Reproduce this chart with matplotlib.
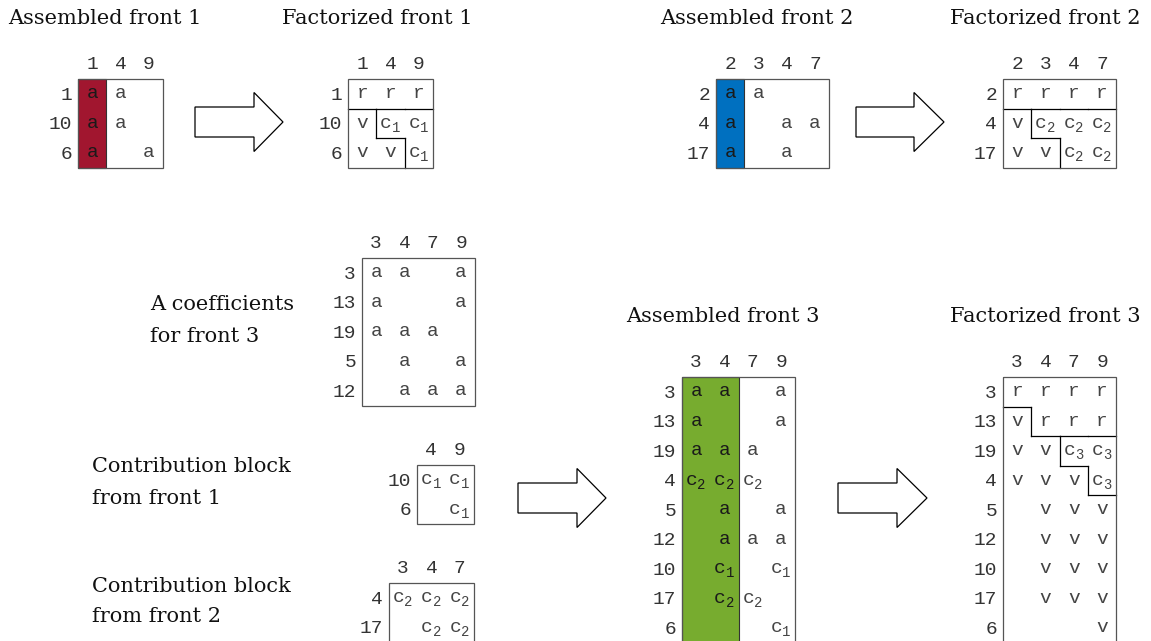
import matplotlib
matplotlib.use("Agg")
import matplotlib.pyplot as plt
from matplotlib.patches import Rectangle, Polygon

# ---- data: fronts of the multifrontal factorization ----
A1_cols = ['1', '4', '9']
A1_rows = ['1', '10', '6']
A1_cells = [['a', 'a', ''],
            ['a', 'a', ''],
            ['a', '', 'a']]
F1_cells = [['r', 'r', 'r'],
            ['v', 'c1', 'c1'],
            ['v', 'v', 'c1']]

A2_cols = ['2', '3', '4', '7']
A2_rows = ['2', '4', '17']
A2_cells = [['a', 'a', '', ''],
            ['a', '', 'a', 'a'],
            ['a', '', 'a', '']]
F2_cells = [['r', 'r', 'r', 'r'],
            ['v', 'c2', 'c2', 'c2'],
            ['v', 'v', 'c2', 'c2']]

AC_cols = ['3', '4', '7', '9']
AC_rows = ['3', '13', '19', '5', '12']
AC_cells = [['a', 'a', '', 'a'],
            ['a', '', '', 'a'],
            ['a', 'a', 'a', ''],
            ['', 'a', '', 'a'],
            ['', 'a', 'a', 'a']]

CB1_cols = ['4', '9']
CB1_rows = ['10', '6']
CB1_cells = [['c1', 'c1'],
             ['', 'c1']]

CB2_cols = ['3', '4', '7']
CB2_rows = ['4', '17']
CB2_cells = [['c2', 'c2', 'c2'],
             ['', 'c2', 'c2']]

A3_cols = ['3', '4', '7', '9']
A3_rows = ['3', '13', '19', '4', '5', '12', '10', '17', '6']
A3_cells = [['a', 'a', '', 'a'],
            ['a', '', '', 'a'],
            ['a', 'a', 'a', ''],
            ['c2', 'c2', 'c2', ''],
            ['', 'a', '', 'a'],
            ['', 'a', 'a', 'a'],
            ['', 'c1', '', 'c1'],
            ['', 'c2', 'c2', ''],
            ['', '', '', 'c1']]
F3_cells = [['r', 'r', 'r', 'r'],
            ['v', 'r', 'r', 'r'],
            ['v', 'v', 'c3', 'c3'],
            ['v', 'v', 'v', 'c3'],
            ['', 'v', 'v', 'v'],
            ['', 'v', 'v', 'v'],
            ['', 'v', 'v', 'v'],
            ['', 'v', 'v', 'v'],
            ['', '', '', 'v']]

RED = '#A1162F'
BLUE = '#0070C0'
GREEN = '#77AC2F'

CW = 28.3   # cell width (px)
CH = 29.5   # cell height (px)
MONO = 'Liberation Mono'
SERIF = 'DejaVu Serif'

fig = plt.figure(figsize=(11.51, 6.41), dpi=100)
ax = fig.add_axes([0, 0, 1, 1])
ax.set_xlim(0, 1151)
ax.set_ylim(641, 0)
ax.axis('off')


def cell_text(cx, cy, s, color):
    # letters with optional subscript digit
    if len(s) == 1:
        ax.text(cx, cy + 4.5, s, family=MONO, fontsize=14, color=color,
                ha='center', va='baseline')
    else:
        ax.text(cx - 4.5, cy + 4.5, s[0], family=MONO, fontsize=14, color=color,
                ha='center', va='baseline')
        ax.text(cx + 5.5, cy + 8.5, s[1], family=MONO, fontsize=10, color=color,
                ha='center', va='baseline')


def draw_matrix(left, top, cols, rows, cells, npiv=0, fill=None, factored=False):
    nr, nc = len(rows), len(cols)
    if npiv:
        ax.add_patch(Rectangle((left, top), npiv * CW, nr * CH,
                               facecolor=fill, edgecolor='#333333', lw=0.8, zorder=1))
    ax.add_patch(Rectangle((left, top), nc * CW, nr * CH,
                           facecolor='none', edgecolor='#555555', lw=0.9, zorder=3))
    for j, c in enumerate(cols):
        ax.text(left + (j + 0.5) * CW, top - 10, c, family=MONO, fontsize=14,
                color='#333333', ha='center', va='baseline')
    for i, r in enumerate(rows):
        cy = top + (i + 0.5) * CH
        ax.text(left - 6, cy + 6, r, family=MONO, fontsize=14,
                color='#333333', ha='right', va='baseline')
        for j in range(nc):
            s = cells[i][j]
            if s:
                col = '#1a1a1a' if j < npiv else '#444444'
                cell_text(left + (j + 0.5) * CW, cy, s, col)
    if factored:
        # boundaries between r / v / c regions
        for i in range(nr):
            for j in range(nc):
                s = cells[i][j]
                if not s:
                    continue
                if j + 1 < nc and cells[i][j + 1] and cells[i][j + 1][0] != s[0]:
                    x = left + (j + 1) * CW
                    ax.plot([x, x], [top + i * CH, top + (i + 1) * CH],
                            color='black', lw=0.9, zorder=2)
                if i + 1 < nr and cells[i + 1][j] and cells[i + 1][j][0] != s[0]:
                    y = top + (i + 1) * CH
                    ax.plot([left + j * CW, left + (j + 1) * CW], [y, y],
                            color='black', lw=0.9, zorder=2)


def draw_arrow(x0, x1, xh, cy):
    pts = [(x0, cy - 15), (xh, cy - 15), (xh, cy - 29.5), (x1, cy),
           (xh, cy + 29.5), (xh, cy + 15), (x0, cy + 15)]
    ax.add_patch(Polygon(pts, closed=True, facecolor='white',
                         edgecolor='black', lw=0.9))


# top row
draw_matrix(78, 79, A1_cols, A1_rows, A1_cells, npiv=1, fill=RED)
draw_matrix(348, 79, A1_cols, A1_rows, F1_cells, factored=True)
draw_matrix(716, 79, A2_cols, A2_rows, A2_cells, npiv=1, fill=BLUE)
draw_matrix(1003, 79, A2_cols, A2_rows, F2_cells, factored=True)
draw_arrow(195, 283, 254, 122)
draw_arrow(856, 944, 914, 122)

# front 3
draw_matrix(362, 258, AC_cols, AC_rows, AC_cells)
draw_matrix(417, 465, CB1_cols, CB1_rows, CB1_cells)
draw_matrix(389, 583, CB2_cols, CB2_rows, CB2_cells)
draw_matrix(682, 377, A3_cols, A3_rows, A3_cells, npiv=2, fill=GREEN)
draw_matrix(1003, 377, A3_cols, A3_rows, F3_cells, factored=True)
draw_arrow(518, 606, 577, 498)
draw_arrow(838, 927, 897, 498)

# labels
labels = [(8, 18, 'Assembled front 1'), (282, 18, 'Factorized front 1'),
          (660, 18, 'Assembled front 2'), (950, 18, 'Factorized front 2'),
          (626, 317, 'Assembled front 3'), (950, 317, 'Factorized front 3'),
          (150, 305, 'A coefficients'), (150, 337, 'for front 3'),
          (92, 467, 'Contribution block'), (92, 498, 'from front 1'),
          (92, 587, 'Contribution block'), (92, 617, 'from front 2')]
for x, y, s in labels:
    ax.text(x, y, s, family=SERIF, fontsize=15, color='#111111',
            ha='left', va='center')

fig.savefig('out.png', dpi=100)
